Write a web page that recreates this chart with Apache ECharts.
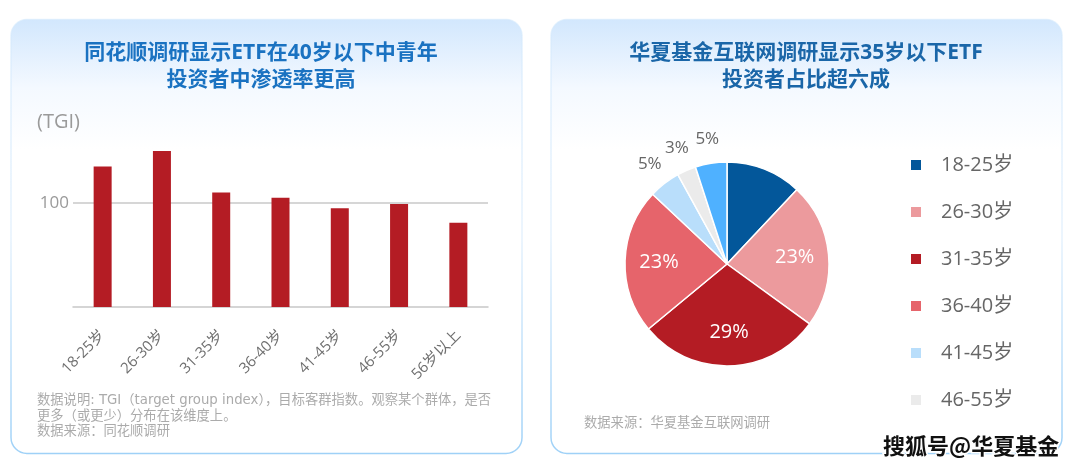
<!DOCTYPE html>
<html>
<head>
<meta charset="utf-8">
<script src="https://cdn.jsdelivr.net/npm/echarts@6/dist/echarts.min.js"></script>
<style>
html,body{margin:0;padding:0;background:#fff;}
#c{width:1080px;height:472px;}
</style>
</head>
<body>
<div id="c"></div>
<script>
// ---- data ----
var barCategories = ['18-25岁', '26-30岁', '31-35岁', '36-40岁', '41-45岁', '46-55岁', '56岁以上'];
var barValues = [135, 150, 110, 105, 95, 99, 81];
var pieNames = ['18-25岁', '26-30岁', '31-35岁', '36-40岁', '41-45岁', '46-55岁', '56岁以上'];
var pieValues = [12, 23, 29, 23, 5, 3, 5];
var pieColors = ['#03579a', '#ec9a9d', '#b41c24', '#e6646b', '#b9defb', '#ebebeb', '#4fb1ff'];
var legendNames = ['18-25岁', '26-30岁', '31-35岁', '36-40岁', '41-45岁', '46-55岁'];
var innerLabelNames = ['26-30岁', '31-35岁', '36-40岁'];
var outerLabelNames = ['41-45岁', '46-55岁', '56岁以上'];
var leftTitle = '同花顺调研显示ETF在40岁以下中青年\n投资者中渗透率更高';
var rightTitle = '华夏基金互联网调研显示35岁以下ETF\n投资者占比超六成';
var leftNote = '数据说明: TGI（target group index），目标客群指数。观察某个群体，是否\n更多（或更少）分布在该维度上。\n数据来源：同花顺调研';
var rightNote = '数据来源：华夏基金互联网调研';
var unitLabel = '(TGI)';
var watermark = '搜狐号@华夏基金';

var FONT = '"Open Sans", "Noto Sans CJK SC", sans-serif';
var NOTE_FONT = '"DejaVu Sans", "Noto Sans CJK SC", sans-serif';
var CJK = '"Noto Sans CJK SC", sans-serif';
var chart = echarts.init(document.getElementById('c'), null, {renderer: 'canvas'});

function panel(x) {
  return {
    type: 'rect', z: -10,
    shape: {x: x, y: 19.5, width: 511, height: 434, r: 16},
    style: {
      fill: new echarts.graphic.LinearGradient(0, 0, 0, 1, [
        {offset: 0, color: '#d2e7fd'},
        {offset: 0.16, color: '#f4f9ff'},
        {offset: 0.3, color: '#ffffff'},
        {offset: 1, color: '#ffffff'}
      ]),
      stroke: new echarts.graphic.LinearGradient(0, 0, 0, 1, [
        {offset: 0, color: 'rgba(210,232,252,0.6)'},
        {offset: 0.5, color: '#e6f2fd'},
        {offset: 1, color: '#9fd1f7'}
      ]),
      lineWidth: 1.5
    }
  };
}

function pieData(showSet, labelStyle) {
  return pieNames.map(function (n, i) {
    return {
      name: n, value: pieValues[i],
      label: Object.assign({show: showSet.indexOf(n) >= 0}, labelStyle)
    };
  });
}

var option = {
  animation: false,
  textStyle: {fontFamily: FONT},
  graphic: [
    panel(11),
    panel(551),
    {type: 'text', z: 5, x: 261, y: 67, style: {text: leftTitle, font: 'bold 21px ' + FONT, fill: '#1a72c1', textAlign: 'center', textVerticalAlign: 'middle', lineHeight: 27}},
    {type: 'text', z: 5, x: 806, y: 67, style: {text: rightTitle, font: 'bold 21px ' + FONT, fill: '#1a66a8', textAlign: 'center', textVerticalAlign: 'middle', lineHeight: 27}},
    {type: 'text', z: 5, x: 37, y: 122, style: {text: unitLabel, font: '20px ' + FONT, fill: '#9a9a9a', textVerticalAlign: 'middle'}},
    {type: 'text', z: 5, x: 37, y: 393, style: {text: leftNote, font: '13.3px ' + NOTE_FONT, fill: '#ababab', lineHeight: 15.5}},
    {type: 'text', z: 5, x: 584, y: 423, style: {text: rightNote, font: '13.3px ' + FONT, fill: '#ababab', textVerticalAlign: 'middle'}},
    {type: 'text', z: 100, x: 883, y: 446, style: {text: watermark, font: 'bold 22px ' + CJK, fill: '#111111', stroke: '#ffffff', lineWidth: 3, textVerticalAlign: 'middle'}}
  ],
  grid: {left: 73, right: 592, top: 99, bottom: 165, containLabel: false},
  xAxis: {
    type: 'category', data: barCategories,
    axisLine: {lineStyle: {color: '#c8c8c8', width: 1.5}},
    axisTick: {show: false},
    axisLabel: {rotate: 45, color: '#6f6f6f', fontSize: 15, margin: 26, fontFamily: FONT}
  },
  yAxis: {
    type: 'value', min: 0, max: 200, interval: 100,
    axisLine: {show: false}, axisTick: {show: false},
    axisLabel: {color: '#9a9a9a', fontSize: 17, margin: 4, fontFamily: FONT,
      formatter: function (v) { return v === 100 ? '100' : ''; }},
    splitLine: {show: true, showMinLine: false, showMaxLine: false, lineStyle: {color: '#c8c8c8', width: 1.5}}
  },
  legend: {
    orient: 'vertical', left: 909, top: 155, padding: 0,
    data: legendNames, icon: 'rect', itemWidth: 12, itemHeight: 12, itemGap: 27,
    textStyle: {fontSize: 20, color: '#666', lineHeight: 20, padding: [0, 0, 0, 14], fontFamily: FONT},
    selectedMode: false
  },
  series: [
    {
      type: 'bar', data: barValues, barWidth: 18,
      itemStyle: {color: '#b41c24'}, silent: true
    },
    {
      type: 'pie', center: [727, 264], radius: [0, 102], startAngle: 90, clockwise: true,
      color: pieColors, data: pieNames.map(function (n, i) { return {name: n, value: pieValues[i]}; }),
      itemStyle: {borderColor: '#fff', borderWidth: 1.5},
      label: {show: false}, labelLine: {show: false}, silent: true
    },
    {
      type: 'pie', center: [727, 264], radius: [0, 130], startAngle: 90, clockwise: true,
      data: pieData(innerLabelNames, {position: 'inside', color: '#fff', fontSize: 20, fontFamily: FONT, formatter: '{c}%'}),
      itemStyle: {color: 'rgba(0,0,0,0)', borderWidth: 0},
      labelLine: {show: false}, silent: true, legendHoverLink: false, z: 5
    },
    {
      type: 'pie', center: [727, 264], radius: [102, 144], startAngle: 90, clockwise: true,
      data: pieData(outerLabelNames, {position: 'inside', color: '#666', fontSize: 17, fontFamily: FONT, formatter: '{c}%'}),
      itemStyle: {color: 'rgba(0,0,0,0)', borderWidth: 0},
      labelLine: {show: false}, silent: true, legendHoverLink: false, z: 5
    }
  ]
};
chart.setOption(option);
</script>
</body>
</html>
